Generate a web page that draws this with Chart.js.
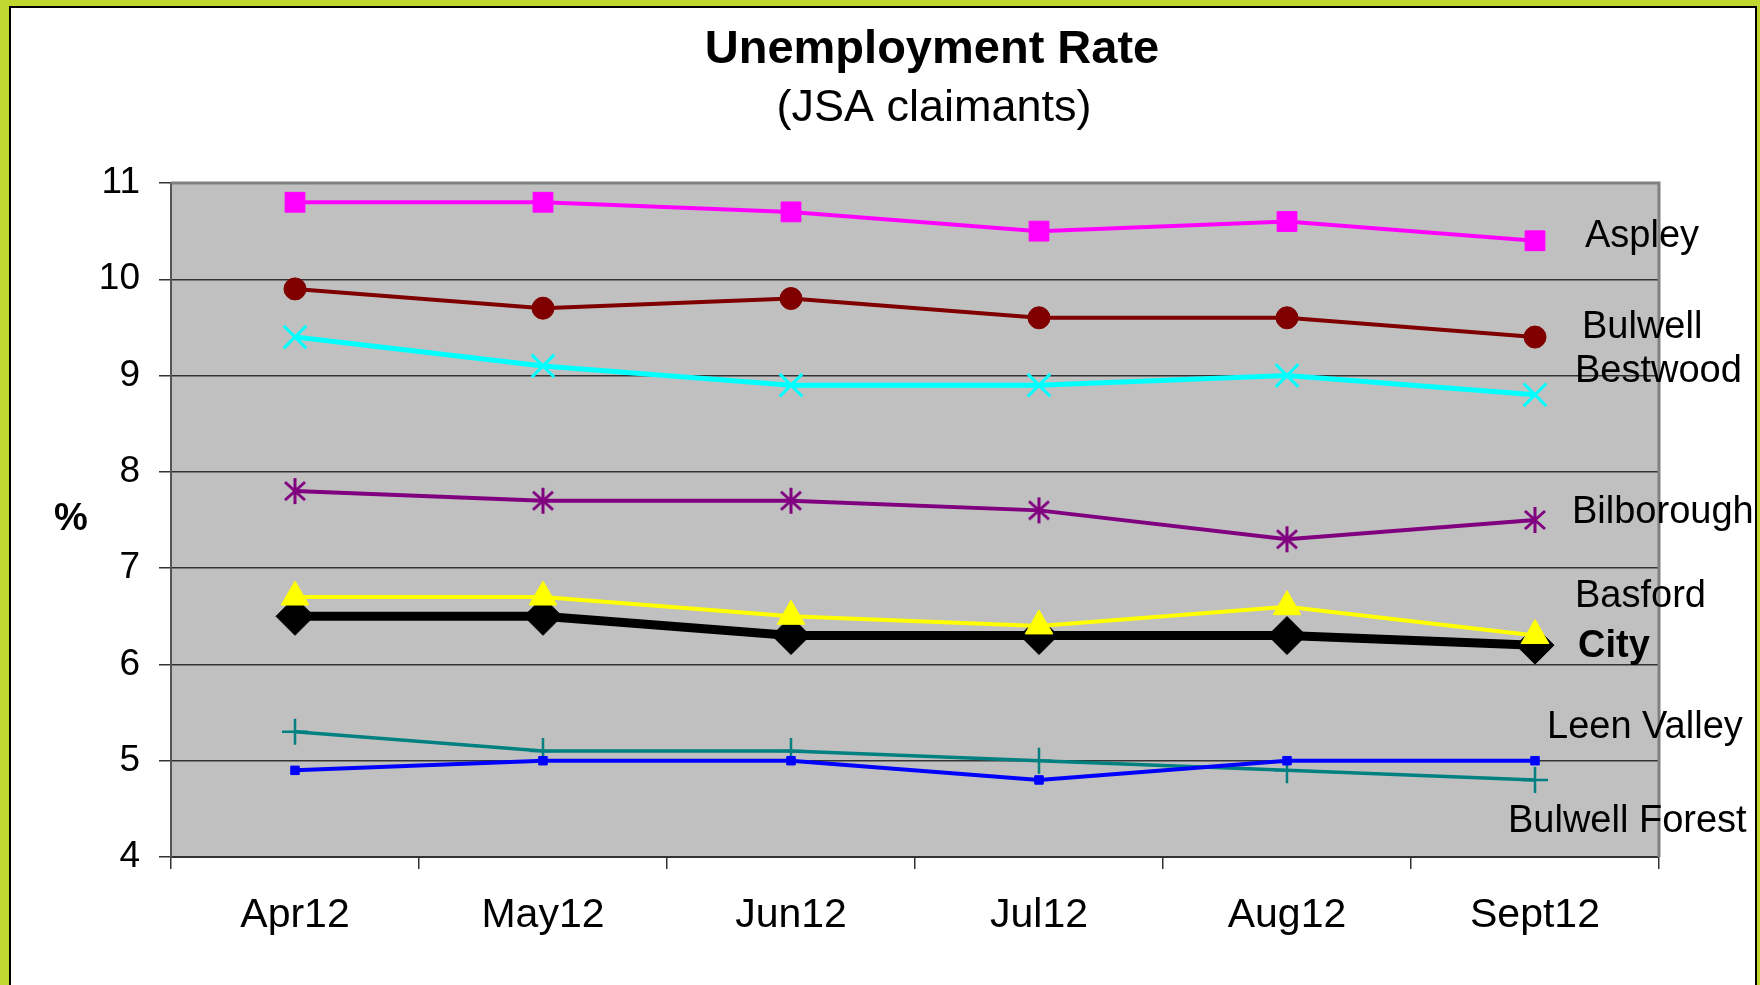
<!DOCTYPE html>
<html>
<head>
<meta charset="utf-8">
<title>Unemployment Rate</title>
<script src="https://cdn.jsdelivr.net/npm/chart.js@4.4.1/dist/chart.umd.min.js"></script>
<style>
    html, body { margin: 0; padding: 0; }
    body { width: 1760px; height: 985px; background: #c0d72f; position: relative; overflow: hidden; }
    #frame { position: absolute; left: 9px; top: 6px; width: 1748px; height: 1000px; background: #fff; border: 2px solid #000; box-sizing: border-box; }
    #wrap { position: absolute; left: 0; top: 0; width: 1760px; height: 985px; }
</style>
</head>
<body>
<div id="frame"></div>
<div id="wrap"><canvas id="rateChart" width="1760" height="985"></canvas></div>
<script>
// Unemployment Rate (JSA claimants) by area, Apr - Sept 2012
const months = ['Apr12', 'May12', 'Jun12', 'Jul12', 'Aug12', 'Sept12'];
const yTicks = [4, 5, 6, 7, 8, 9, 10, 11];

const aspley        = [10.8, 10.8, 10.7, 10.5, 10.6, 10.4];
const bulwell       = [9.9, 9.7, 9.8, 9.6, 9.6, 9.4];
const bestwood      = [9.4, 9.1, 8.9, 8.9, 9.0, 8.8];
const bilborough    = [7.8, 7.7, 7.7, 7.6, 7.3, 7.5];
const basford       = [6.7, 6.7, 6.5, 6.4, 6.6, 6.3];
const city          = [6.5, 6.5, 6.3, 6.3, 6.3, 6.2];
const leenValley    = [5.3, 5.1, 5.1, 5.0, 4.9, 4.8];
const bulwellForest = [4.9, 5.0, 5.0, 4.8, 5.0, 5.0];

const FONT = "'Liberation Sans', Arial, sans-serif";

// area names written beside the plot (x, baseline y in canvas pixels)
const sideLabels = [
    { text: 'Aspley',         x: 1585, y: 247, bold: false },
    { text: 'Bulwell',        x: 1582, y: 338, bold: false },
    { text: 'Bestwood',       x: 1575, y: 382, bold: false },
    { text: 'Bilborough',     x: 1572, y: 523, bold: false },
    { text: 'Basford',        x: 1575, y: 607, bold: false },
    { text: 'City',           x: 1578, y: 657, bold: true },
    { text: 'Leen Valley',    x: 1547, y: 738, bold: false },
    { text: 'Bulwell Forest', x: 1508, y: 832, bold: false }
];

// asterisk marker (vertical bar + X)
function makeAsterisk(color) {
    const c = document.createElement('canvas');
    c.width = 26; c.height = 28;
    const g = c.getContext('2d');
    g.strokeStyle = color;
    g.lineWidth = 3;
    g.beginPath();
    g.moveTo(13, 1); g.lineTo(13, 27);
    g.moveTo(3, 5); g.lineTo(23, 23);
    g.moveTo(23, 5); g.lineTo(3, 23);
    g.stroke();
    return c;
}

function line(label, data, color, width, style, radius, extra) {
    return Object.assign({
        label: label,
        data: data,
        borderColor: color,
        backgroundColor: color,
        borderWidth: width,
        pointStyle: style,
        pointRadius: radius,
        pointBorderColor: color,
        pointBackgroundColor: color,
        pointBorderWidth: 1,
        tension: 0
    }, extra || {});
}

const plotFrame = {
    id: 'plotFrame',
    beforeDraw(chart) {
        const { ctx, chartArea: a } = chart;
        ctx.save();
        ctx.fillStyle = '#c0c0c0';
        ctx.fillRect(a.left, a.top, a.right - a.left, a.bottom - a.top);
        ctx.restore();
    },
    beforeDatasetsDraw(chart) {
        const { ctx, chartArea: a } = chart;
        ctx.save();
        ctx.strokeStyle = '#808080';
        ctx.lineWidth = 3;
        ctx.beginPath();
        ctx.moveTo(a.left, a.top);
        ctx.lineTo(a.right, a.top);
        ctx.lineTo(a.right, a.bottom);
        ctx.stroke();
        ctx.restore();
    },
    afterDraw(chart) {
        const ctx = chart.ctx;
        ctx.save();
        ctx.fillStyle = '#000';
        ctx.textAlign = 'center';
        ctx.textBaseline = 'alphabetic';
        ctx.font = 'bold 47px ' + FONT;
        ctx.fillText('Unemployment Rate', 932, 63);
        ctx.font = '45px ' + FONT;
        ctx.fillText('(JSA claimants)', 934, 121);

        ctx.font = 'bold 38px ' + FONT;
        ctx.fillText('%', 71, 530);

        ctx.textAlign = 'left';
        sideLabels.forEach(function(l) {
            ctx.font = (l.bold ? 'bold ' : '') + '38px ' + FONT;
            ctx.fillText(l.text, l.x, l.y);
        });
        ctx.restore();
    }
};

new Chart(document.getElementById('rateChart'), {
    type: 'line',
    data: {
        labels: months,
        datasets: [
            line('Basford', basford, '#ffff00', 4, 'triangle', 16),
            line('City', city, '#000000', 9, 'rectRot', 19),
            line('Aspley', aspley, '#ff00ff', 4, 'rect', 14),
            line('Bulwell', bulwell, '#800000', 4, 'circle', 11),
            line('Bestwood', bestwood, '#00ffff', 5, 'crossRot', 16, { pointBorderWidth: 3 }),
            line('Bilborough', bilborough, '#800080', 4, makeAsterisk('#800080'), 13),
            line('Bulwell Forest', bulwellForest, '#0000ff', 4, 'rect', 6),
            line('Leen Valley', leenValley, '#008080', 3.5, 'cross', 13, { pointBorderWidth: 2.5 })
        ]
    },
    plugins: [plotFrame],
    options: {
        responsive: false,
        animation: false,
        layout: {
            padding: { left: 81, right: 101, top: 183, bottom: 48 }
        },
        plugins: {
            legend: { display: false },
            tooltip: { enabled: false },
            title: { display: false }
        },
        scales: {
            x: {
                offset: true,
                grid: {
                    offset: true,
                    drawOnChartArea: false,
                    tickLength: 12,
                    color: '#333',
                    lineWidth: 1.5
                },
                border: { color: '#333', width: 2 },
                ticks: {
                    color: '#000',
                    padding: 22,
                    maxRotation: 0,
                    autoSkip: false,
                    font: { size: 41, family: FONT }
                },
                afterFit: function(scale) { scale.height = 80; }
            },
            y: {
                min: 4,
                max: 11,
                afterBuildTicks: function(scale) {
                    scale.ticks = yTicks.map(v => ({ value: v }));
                },
                grid: {
                    color: '#333',
                    lineWidth: 1.5,
                    tickLength: 12
                },
                border: { color: '#555', width: 2 },
                ticks: {
                    color: '#000',
                    padding: 19,
                    font: { size: 37, family: FONT }
                },
                afterFit: function(scale) { scale.width = 90; }
            }
        }
    }
});
</script>
</body>
</html>
